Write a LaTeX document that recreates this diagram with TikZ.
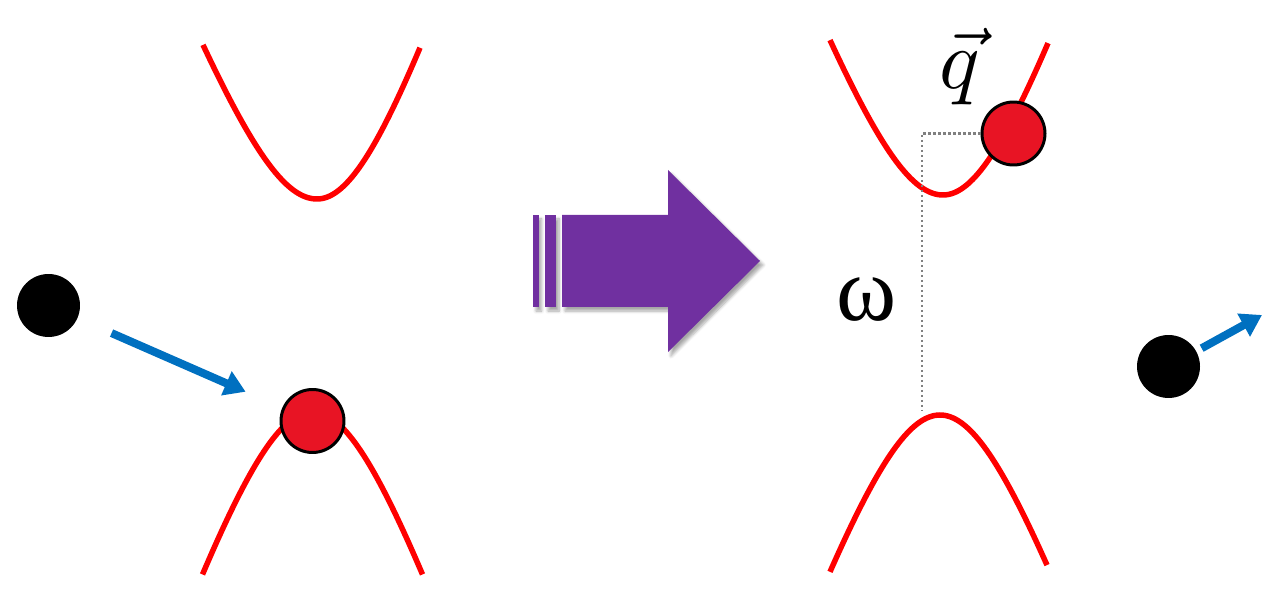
\documentclass[tikz,border=0pt]{standalone}
\usepackage{fontspec}
\newfontfamily\omegafont{Liberation Serif}
\usetikzlibrary{arrows.meta,shadows.blur}
\definecolor{bandred}{RGB}{255,0,0}
\definecolor{ballred}{RGB}{232,20,36}
\definecolor{arrowblue}{RGB}{0,112,192}
\definecolor{bigpurple}{RGB}{112,48,160}
\definecolor{dotgray}{RGB}{128,128,128}
\tikzset{
  band/.style={draw=bandred, line width=0.11cm, line cap=butt},
  redball/.style={circle, fill=ballred, draw=black, line width=0.06cm, minimum size=1.26cm, inner sep=0pt},
  blackball/.style={circle, fill=black, minimum size=1.26cm, inner sep=0pt},
  bluearrow/.style={draw=arrowblue, line width=0.16cm, -{Triangle[length=0.42cm,width=0.5cm]}},
  guide/.style={draw=dotgray, line width=0.05cm, dash pattern=on 0.05cm off 0.05cm},
  purplebody/.style={fill=bigpurple, blur shadow={shadow xshift=0.06cm, shadow yshift=-0.08cm, shadow blur steps=6, shadow opacity=35}}
}
\begin{document}
\begin{tikzpicture}[x=0.02cm, y=-0.02cm]
\useasboundingbox (0,0) rectangle (1272,594);

% left panel bands
\draw[band] plot[domain=-114:0, samples=50] ({317+\x},{199-2.6*(10*sqrt(64+(\x/10)*(\x/10))-80)})
  -- plot[domain=0:103, samples=50] ({317+\x},{199-3.0*(10*sqrt(64+(\x/10)*(\x/10))-80)});
\draw[band] plot[domain=-110:110, samples=80] ({312.5+\x},{412+2.9*(10*sqrt(64+(\x/10)*(\x/10))-80)});

% right panel bands
\draw[band] plot[domain=-113:0, samples=50] ({943+\x},{195-2.65*(10*sqrt(64+(\x/10)*(\x/10))-80)})
  -- plot[domain=0:105, samples=50] ({943+\x},{195-2.92*(10*sqrt(64+(\x/10)*(\x/10))-80)});
\draw[band] plot[domain=-110:107, samples=80] ({940+\x},{415+2.8*(10*sqrt(64+(\x/10)*(\x/10))-80)});

% balls
\node[blackball] (b1) at (48.5,305.5) {};
\node[redball] (r1) at (312.5,421) {};
\node[redball] (r2) at (1013.5,133.5) {};
\node[blackball] (b2) at (1168.5,366.5) {};

% guides
\coordinate (corner) at (922,133.5);
\coordinate (gapend) at (922,410);
\draw[guide] (r2.west) -- (corner) -- (gapend);

% labels
\node[inner sep=0pt] (omega) at (867,300) {\fontsize{52}{52}\selectfont\omegafont ω};
\node[inner sep=0pt, scale=4.8] (q) at (960,67) {$\vec{q}$};

% blue arrows
\draw[bluearrow, shorten <=0.74cm, shorten >=0.8cm] (b1) -- (r1);
\coordinate (outtip) at (1262,315);
\draw[bluearrow, shorten <=0.12cm] (b2) -- (outtip);

% purple arrow
\fill[purplebody] (533,215) rectangle (538.5,307);
\fill[purplebody] (545,215) rectangle (556,307);
\fill[purplebody] (562,215) -- (668,215) -- (668,170) -- (760,261) -- (668,352) -- (668,307) -- (562,307) -- cycle;
\end{tikzpicture}
\end{document}
